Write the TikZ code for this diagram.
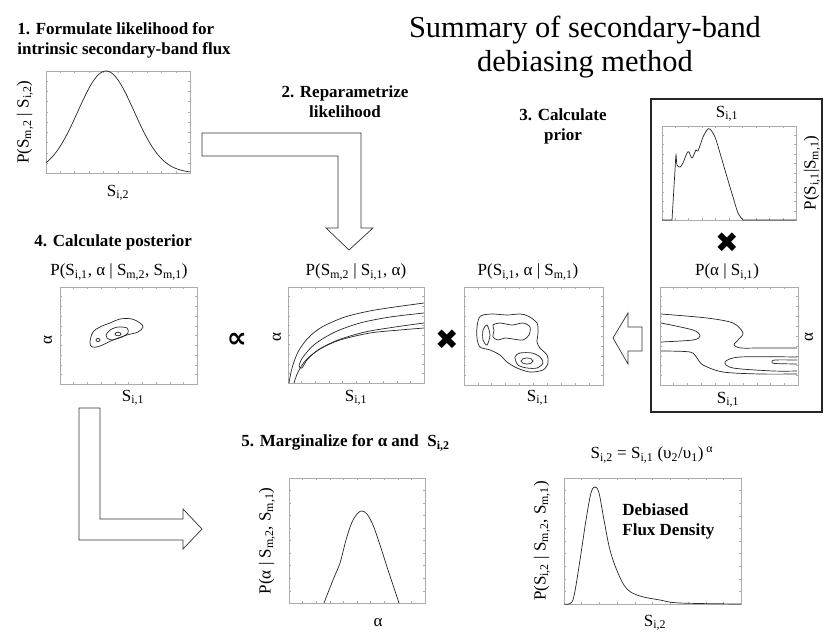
\documentclass[tikz,border=0pt]{standalone}
\usepackage{fontspec}
\setmainfont{Liberation Serif}
\newfontfamily\symfont{DejaVu Sans}
\usetikzlibrary{fit, calc}

\begin{document}
\begin{tikzpicture}[
    x=0.03cm, y=-0.03cm,
    % Styles
    plotbox/.style={
        rectangle, draw=gray!65,
        line width=0.4pt, inner sep=0pt
    },
    tick/.style={draw=gray!65, line width=0.3pt},
    curve/.style={line width=0.6pt, color=black!85},
    steplabel/.style={
        font=\fontsize{14.5}{17}\selectfont\bfseries,
        align=center, inner sep=1pt
    },
    axlabel/.style={font=\fontsize{14.5}{16}\selectfont, inner sep=1pt},
    blockarrow/.style={
        draw=black!80, fill=white,
        line width=0.6pt, line join=miter
    },
]
\useasboundingbox (0,0) rectangle (830,642);

% Title
\node[font=\fontsize{26}{29}\selectfont, align=center] (title) at (585,47)
    {Summary of secondary-band\\debiasing method};

% Step labels
\node[steplabel, align=left, anchor=west] (step1) at (16,40)
    {1. Formulate likelihood for\\intrinsic secondary-band flux};
\node[steplabel] (step2) at (345,102) {2. Reparametrize\\likelihood};
\node[steplabel] (step3) at (563,126) {3. Calculate\\prior};
\node[steplabel, anchor=west] (step4) at (33,242) {4. Calculate posterior};
\node[steplabel, anchor=west] (step5) at (240,443)
    {5. Marginalize for α and~ S\textsubscript{i,2}};

% Plot frames
\node[plotbox, fit={(46,71)(190,173)}] (lik1) {};
\node[plotbox, fit={(60,287)(197,384)}] (post) {};
\node[plotbox, fit={(288,287)(424,383)}] (lik2) {};
\node[plotbox, fit={(464,287)(603,385)}] (prior) {};
\node[plotbox, fit={(662,126)(796,220)}] (pri1) {};
\node[plotbox, fit={(660,287)(798,385)}] (pri2) {};
\node[plotbox, fit={(289,478)(425,603)}] (marg) {};
\node[plotbox, fit={(564,478)(741,604)}] (flux) {};

% Prior frame
\node[rectangle, draw=black!85, line width=1pt, inner sep=0pt,
      fit={(651,99)(822,412)}] (priorbox) {};

% Tick marks
\foreach \b in {lik1,post,lik2,prior,pri1,pri2,marg,flux} {
    \foreach \i [evaluate=\i as \t using \i/10] in {1,...,9} {
        \draw[tick] ($(\b.south west)!\t!(\b.south east)$) -- ++(0,-2);
        \draw[tick] ($(\b.north west)!\t!(\b.north east)$) -- ++(0,2);
        \draw[tick] ($(\b.south west)!\t!(\b.north west)$) -- ++(2,0);
        \draw[tick] ($(\b.south east)!\t!(\b.north east)$) -- ++(-2,0);
    }
}

% Axis labels
\node[axlabel, rotate=90] (lik1y) at (25,122) {P(S\textsubscript{m,2} | S\textsubscript{i,2})};
\node[axlabel] (lik1x) at (118,193) {S\textsubscript{i,2}};

\node[axlabel] (postlab) at (119,272) {P(S\textsubscript{i,1}, α | S\textsubscript{m,2}, S\textsubscript{m,1})};
\node[axlabel, rotate=90] (posty) at (48,340) {α};
\node[axlabel] (postx) at (133,398) {S\textsubscript{i,1}};

\node[axlabel] (lik2lab) at (356,272) {P(S\textsubscript{m,2} | S\textsubscript{i,1}, α)};
\node[axlabel, rotate=90] (lik2y) at (277,337) {α};
\node[axlabel] (lik2x) at (356,398) {S\textsubscript{i,1}};

\node[axlabel] (priorlab) at (528,272) {P(S\textsubscript{i,1}, α | S\textsubscript{m,1})};
\node[axlabel] (priorx) at (538,398) {S\textsubscript{i,1}};

\node[axlabel] (pri1x) at (727,114) {S\textsubscript{i,1}};
\node[axlabel, rotate=90] (pri1y) at (812,173) {P(S\textsubscript{i,1}|S\textsubscript{m,1})};
\node[axlabel] (pri2lab) at (727,272) {P(α | S\textsubscript{i,1})};
\node[axlabel, rotate=90] (pri2y) at (809,337) {α};
\node[axlabel] (pri2x) at (728,400) {S\textsubscript{i,1}};

\node[axlabel, rotate=90] (margy) at (267,541) {P(α | S\textsubscript{m,2}, S\textsubscript{m,1})};
\node[axlabel] (margx) at (378,623) {α};

\node[axlabel] (fluxlab) at (652,455) {S\textsubscript{i,2} = S\textsubscript{i,1} (υ\textsubscript{2}/υ\textsubscript{1})\textsuperscript{ α}};
\node[axlabel, rotate=90] (fluxy) at (542,541) {P(S\textsubscript{i,2} | S\textsubscript{m,2}, S\textsubscript{m,1})};
\node[axlabel] (fluxx) at (655,623) {S\textsubscript{i,2}};
\node[steplabel, align=left, anchor=north west] (fluxtxt) at (621,502) {Debiased\\Flux Density};

% Operators
\node[font=\symfont\fontsize{24}{24}\selectfont] (times1) at (447,340) {✖};
\node[font=\symfont\fontsize{24}{24}\selectfont] (times2) at (727,243) {✖};
\node[font=\symfont\bfseries\fontsize{24}{24}\selectfont] (propto) at (237,340) {∝};

% Block arrows
\draw[blockarrow] (202,133) -- (361,133) -- (361,228) -- (373,228) -- (349,250)
    -- (326,228) -- (338,228) -- (338,156) -- (202,156) -- cycle;
\draw[blockarrow] (613,338) -- (628,313) -- (628,327) -- (642,327) -- (642,351)
    -- (628,351) -- (628,364) -- cycle;
\draw[blockarrow] (79,408) -- (100,408) -- (100,519) -- (183,519) -- (183,509)
    -- (202,529) -- (183,549) -- (183,540) -- (79,540) -- cycle;

% Curves: likelihood
\draw[curve] plot[domain=46:190, samples=70] (\x, {173-102*exp(-((\x-106)^2)/1568)});

% Curves: posterior
\draw[curve] plot[smooth cycle, tension=0.6] coordinates {(90,342) (93,332) (100,327) (110,323)
    (120,319) (132,319) (140,323) (143,327) (138,332) (127,335) (113,340) (100,346) (92,347)};
\draw[curve] plot[smooth cycle] coordinates {(106,335) (110,330) (118,327) (127,328)
    (128,333) (122,337) (112,340) (107,338)};
\draw[curve] (118,334) ellipse [x radius=3, y radius=1.8];
\draw[curve] (98,340) ellipse [x radius=2, y radius=1.6];

% Curves: reparametrized likelihood
\draw[curve] plot[smooth] coordinates {(289,383) (292,368) (298,352) (308,338) (322,327)
    (345,317) (375,310) (424,303)};
\draw[curve] plot[smooth] coordinates {(424,313) (390,317) (360,323) (335,332) (315,344)
    (303,357) (299,366) (302,368) (307,360) (318,350) (338,340) (365,332) (395,327) (424,323)};
\draw[curve] plot[smooth] coordinates {(294,383) (298,372) (306,360) (320,349) (340,340)
    (370,333) (400,330) (424,328)};

% Curves: prior
\draw[curve] plot[smooth cycle] coordinates {(479,318) (483,315) (493,314) (507,315) (520,314)
    (528,316) (537,323) (538,333) (537,342) (540,348) (547,355) (548,363) (543,370) (530,372)
    (517,368) (507,362) (500,355) (490,350) (480,347) (477,338) (477,327)};
\draw[curve] plot[smooth cycle] coordinates {(487,325) (490,335) (487,345) (483,340) (483,330)};
\draw[curve] plot[smooth cycle] coordinates {(493,325) (500,323) (512,325) (523,323) (530,327)
    (529,335) (523,340) (513,339) (505,338) (498,340) (493,337) (494,330)};
\draw[curve] plot[smooth cycle] coordinates {(515,357) (520,353) (532,353) (540,357) (543,363)
    (537,368) (527,368) (518,365)};
\draw[curve] (527,361) ellipse [x radius=6, y radius=3];

% Curves: flux prior
\draw[curve] (662,220) -- (672,220) -- plot[smooth] coordinates {(672,220) (675,170) (676,155)
    (677,165) (680,167) (683,163) (687,153) (689,152) (692,158) (696,150) (698,151) (703,137)
    (707,130) (710,129) (715,137) (720,153) (727,177) (733,197) (738,213) (743,220)} -- (796,220);

% Curves: alpha given flux
\draw[curve] plot[smooth] coordinates {(661,314) (707,318) (733,323) (743,333) (738,340)
    (734,345) (741,348) (760,348) (797,348)};
\draw[curve] plot[smooth] coordinates {(661,323) (693,330) (700,336) (693,340) (661,342)};
\draw[curve] plot[smooth] coordinates {(661,351) (690,352) (697,358) (703,365) (723,372)
    (760,374) (797,374)};
\draw[curve] plot[smooth] coordinates {(797,357) (740,357) (725,362) (733,368) (773,371) (797,371)};
\draw[curve] plot[smooth] coordinates {(797,360) (775,360) (772,362) (775,363.5) (797,364)};

% Curves: marginal alpha
\draw[curve] plot[smooth] coordinates {(324,603) (333,580) (340,563) (346,540) (352,522)
    (358,513) (362,511) (367,514) (373,525) (380,545) (388,570) (394,588) (399,603)};

% Curves: debiased flux
\draw[curve] plot[smooth, tension=0.6] coordinates {(564,604) (570,603.5) (574,596) (580,560)
    (586,520) (591,493) (595,487) (599,493) (604,520) (610,550) (618,573) (627,589) (640,596)
    (660,600) (680,603) (741,604)};

\end{tikzpicture}
\end{document}
